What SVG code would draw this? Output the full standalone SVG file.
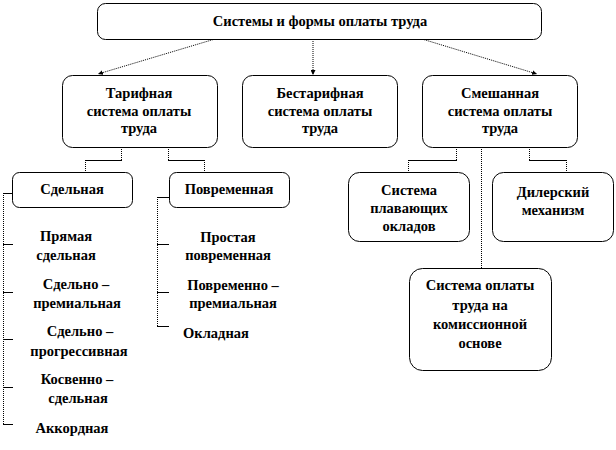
<svg xmlns="http://www.w3.org/2000/svg" width="616" height="450" viewBox="0 0 616 450">
<style>
.box{fill:#fff;stroke:#000;stroke-width:1}
.t{font-family:'Liberation Serif','DejaVu Serif',serif;font-weight:bold;font-size:14.5px;fill:#000;text-anchor:middle}
.h{stroke:#000;stroke-width:1;fill:none}
.v{stroke:#000;stroke-width:1;fill:none;stroke-dasharray:1 1}
</style>
<defs>
<marker id="ah" viewBox="0 0 10 10" refX="10" refY="5" markerWidth="5" markerHeight="5" orient="auto" markerUnits="userSpaceOnUse">
<path d="M0,0 L10,5 L0,10 z" fill="#000"/>
</marker>
</defs>
<rect width="616" height="450" fill="#fff"/>
<g id="connectors">
<line class="v" x1="215" y1="39" x2="98" y2="74" marker-end="url(#ah)"/>
<line class="v" x1="313" y1="39" x2="313" y2="75" marker-end="url(#ah)"/>
<line class="v" x1="422" y1="39" x2="537" y2="74" marker-end="url(#ah)"/>
<line class="v" x1="121.5" y1="147" x2="121.5" y2="160"/>
<line class="h" x1="85" y1="160.5" x2="122" y2="160.5"/>
<line class="v" x1="85.5" y1="160" x2="85.5" y2="172"/>
<line class="v" x1="168.5" y1="147" x2="168.5" y2="160"/>
<line class="h" x1="168" y1="160.5" x2="205" y2="160.5"/>
<line class="v" x1="204.5" y1="160" x2="204.5" y2="172"/>
<line class="v" x1="3.5" y1="193" x2="3.5" y2="424"/>
<line class="h" x1="3" y1="193.5" x2="13" y2="193.5"/>
<line class="h" x1="3" y1="244.5" x2="13" y2="244.5"/>
<line class="h" x1="3" y1="292.5" x2="13" y2="292.5"/>
<line class="h" x1="3" y1="339.5" x2="13" y2="339.5"/>
<line class="h" x1="3" y1="387.5" x2="13" y2="387.5"/>
<line class="h" x1="3" y1="424.5" x2="13" y2="424.5"/>
<line class="v" x1="157.5" y1="197" x2="157.5" y2="326"/>
<line class="h" x1="157" y1="197.5" x2="169" y2="197.5"/>
<line class="h" x1="157" y1="244.5" x2="169" y2="244.5"/>
<line class="h" x1="157" y1="292.5" x2="169" y2="292.5"/>
<line class="h" x1="157" y1="326.5" x2="169" y2="326.5"/>
<line class="v" x1="456.5" y1="147" x2="456.5" y2="160"/>
<line class="h" x1="408" y1="160.5" x2="457" y2="160.5"/>
<line class="v" x1="408.5" y1="160" x2="408.5" y2="172"/>
<line class="v" x1="481.5" y1="147" x2="481.5" y2="268"/>
<line class="v" x1="529.5" y1="147" x2="529.5" y2="160"/>
<line class="h" x1="529" y1="160.5" x2="567" y2="160.5"/>
<line class="v" x1="566.5" y1="160" x2="566.5" y2="172"/>
</g>
<g id="root">
<rect class="box" x="97.5" y="3.5" width="444" height="36" rx="8"/>
<text class="t" x="320" y="26">Системы и формы оплаты труда</text>
</g>
<g id="tarif">
<rect class="box" x="62.5" y="75.5" width="155" height="72" rx="10"/>
<text class="t" x="139" y="98">Тарифная</text>
<text class="t" x="139" y="115.5">система оплаты</text>
<text class="t" x="139" y="133">труда</text>
</g>
<g id="bestarif">
<rect class="box" x="242.5" y="75.5" width="155" height="72" rx="10"/>
<text class="t" x="320" y="98">Бестарифная</text>
<text class="t" x="320" y="115.5">система оплаты</text>
<text class="t" x="320" y="133">труда</text>
</g>
<g id="smesh">
<rect class="box" x="422.5" y="75.5" width="155" height="72" rx="10"/>
<text class="t" x="500" y="98">Смешанная</text>
<text class="t" x="500" y="115.5">система оплаты</text>
<text class="t" x="500" y="133">труда</text>
</g>
<g id="sdelnaya">
<rect class="box" x="12.5" y="172.5" width="120" height="35" rx="7"/>
<text class="t" x="72" y="194">Сдельная</text>
</g>
<g id="povremennaya">
<rect class="box" x="169.5" y="172.5" width="120" height="35" rx="7"/>
<text class="t" x="229" y="194">Повременная</text>
</g>
<g id="pryamaya">
<text class="t" x="66" y="241">Прямая</text>
<text class="t" x="66" y="260">сдельная</text>
</g>
<g id="sdelno-prem">
<text class="t" x="76" y="289">Сдельно –</text>
<text class="t" x="77" y="308">премиальная</text>
</g>
<g id="sdelno-progr">
<text class="t" x="80" y="336">Сдельно –</text>
<text class="t" x="79" y="356">прогрессивная</text>
</g>
<g id="kosvenno">
<text class="t" x="77" y="384">Косвенно –</text>
<text class="t" x="78" y="403">сдельная</text>
</g>
<g id="akkordnaya">
<text class="t" x="72" y="433">Аккордная</text>
</g>
<g id="prostaya">
<text class="t" x="228" y="242">Простая</text>
<text class="t" x="228" y="260">повременная</text>
</g>
<g id="povrem-prem">
<text class="t" x="233" y="290">Повременно –</text>
<text class="t" x="233" y="308">премиальная</text>
</g>
<g id="okladnaya">
<text class="t" x="216" y="338">Окладная</text>
</g>
<g id="plav">
<rect class="box" x="348.5" y="172.5" width="121" height="69" rx="11"/>
<text class="t" x="409" y="195">Система</text>
<text class="t" x="409" y="213">плавающих</text>
<text class="t" x="409" y="231">окладов</text>
</g>
<g id="diler">
<rect class="box" x="492.5" y="172.5" width="121" height="69" rx="11"/>
<text class="t" x="553" y="197">Дилерский</text>
<text class="t" x="553" y="215">механизм</text>
</g>
<g id="komission">
<rect class="box" x="409.5" y="268.5" width="142" height="102" rx="13"/>
<text class="t" x="480" y="290">Система оплаты</text>
<text class="t" x="480" y="310">труда на</text>
<text class="t" x="480" y="329">комиссионной</text>
<text class="t" x="480" y="348">основе</text>
</g>
</svg>
